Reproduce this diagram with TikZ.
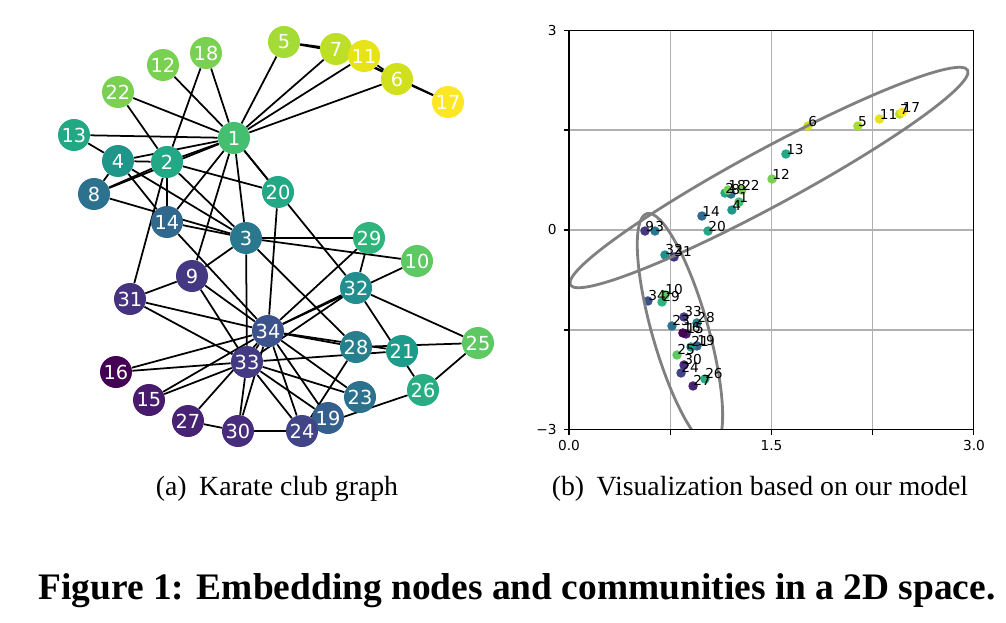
\documentclass[tikz,border=0pt]{standalone}
\usepackage{fontspec}
\setmainfont{Liberation Serif}
\newfontfamily\plotfont{DejaVu Sans}
\usetikzlibrary{backgrounds}
\definecolor{vir00}{RGB}{68, 1, 84}
\definecolor{vir05}{RGB}{72, 27, 109}
\definecolor{vir07}{RGB}{72, 35, 116}
\definecolor{vir10}{RGB}{71, 45, 123}
\definecolor{vir12}{RGB}{70, 51, 127}
\definecolor{vir14}{RGB}{69, 56, 130}
\definecolor{vir15}{RGB}{68, 58, 131}
\definecolor{vir20}{RGB}{65, 68, 135}
\definecolor{vir25}{RGB}{59, 82, 139}
\definecolor{vir29}{RGB}{53, 96, 141}
\definecolor{vir33}{RGB}{49, 104, 142}
\definecolor{vir38}{RGB}{44, 114, 142}
\definecolor{vir40}{RGB}{42, 120, 142}
\definecolor{vir44}{RGB}{39, 127, 142}
\definecolor{vir49}{RGB}{34, 142, 141}
\definecolor{vir52}{RGB}{32, 150, 139}
\definecolor{vir54}{RGB}{31, 155, 138}
\definecolor{vir60}{RGB}{34, 168, 132}
\definecolor{vir62}{RGB}{39, 173, 129}
\definecolor{vir65}{RGB}{47, 180, 124}
\definecolor{vir70}{RGB}{68, 191, 112}
\definecolor{vir75}{RGB}{94, 201, 98}
\definecolor{vir80}{RGB}{122, 209, 81}
\definecolor{vir86}{RGB}{165, 219, 54}
\definecolor{vir90}{RGB}{189, 223, 38}
\definecolor{vir93}{RGB}{208, 225, 28}
\definecolor{vir96}{RGB}{230, 228, 25}
\definecolor{vir100}{RGB}{253, 231, 37}
\definecolor{gridgray}{RGB}{176, 176, 176}
\definecolor{ringgray}{RGB}{128, 128, 128}
\def\spots{1/1.26/0.42/vir70, 2/1.156/0.555/vir60, 3/0.637/-0.015/vir40, 4/1.207/0.30/vir52,
  5/2.14/1.56/vir86, 6/1.77/1.56/vir93, 7/2.45/1.74/vir90, 8/1.20/0.54/vir38,
  9/0.563/-0.015/vir14, 10/0.711/-0.975/vir75, 11/2.30/1.665/vir96, 12/1.504/0.765/vir80,
  13/1.607/1.14/vir60, 14/0.985/0.21/vir33, 15/0.867/-1.56/vir05, 16/0.844/-1.545/vir00,
  17/2.47/1.77/vir100, 18/1.178/0.60/vir80, 19/0.948/-1.74/vir29, 20/1.03/-0.015/vir60,
  21/0.904/-1.755/vir54, 22/1.281/0.60/vir80, 23/0.763/-1.44/vir38, 24/0.83/-2.145/vir20,
  25/0.80/-1.875/vir75, 26/1.007/-2.235/vir62, 27/0.919/-2.34/vir07, 28/0.948/-1.395/vir44,
  29/0.689/-1.08/vir65, 30/0.852/-2.025/vir10, 31/0.778/-0.405/vir12, 32/0.711/-0.375/vir49,
  33/0.852/-1.305/vir15, 34/0.585/-1.065/vir25}

\begin{document}
\begin{tikzpicture}[x=0.02cm, y=-0.02cm,
    member/.style={circle, minimum size=0.64cm, inner sep=0pt, text=white,
                   font=\plotfont\fontsize{11}{11}\selectfont},
    tie/.style={line width=1pt},
    gridline/.style={line width=0.8pt, color=gridgray},
    ring/.style={line width=1.6pt, color=ringgray},
    tag/.style={anchor=base west, inner sep=0pt, font=\plotfont\fontsize{7.8}{7.8}\selectfont},
    ticklabel/.style={inner sep=0pt, font=\plotfont\fontsize{7.8}{7.8}\selectfont},
    caption/.style={inner sep=0pt, font=\fontsize{15.8}{15.8}\selectfont}]
    \useasboundingbox (0,0) rectangle (1006,622);

        \node[member, fill=vir70]  (n1)  at (234,138) {1};
        \node[member, fill=vir60]  (n2)  at (167,162) {2};
        \node[member, fill=vir40]  (n3)  at (246,238) {3};
        \node[member, fill=vir52]  (n4)  at (118,161) {4};
        \node[member, fill=vir86]  (n5)  at (284,42)  {5};
        \node[member, fill=vir93]  (n6)  at (397,79)  {6};
        \node[member, fill=vir90]  (n7)  at (336,49)  {7};
        \node[member, fill=vir38]  (n8)  at (94,194)  {8};
        \node[member, fill=vir14]  (n9)  at (192,276) {9};
        \node[member, fill=vir75]  (n10) at (417,261) {10};
        \node[member, fill=vir96]  (n11) at (364,56)  {11};
        \node[member, fill=vir80]  (n12) at (163,65)  {12};
        \node[member, fill=vir60]  (n13) at (74,135)  {13};
        \node[member, fill=vir33]  (n14) at (167,222) {14};
        \node[member, fill=vir05]  (n15) at (149,400) {15};
        \node[member, fill=vir00]  (n16) at (116,372) {16};
        \node[member, fill=vir100] (n17) at (448,102) {17};
        \node[member, fill=vir80]  (n18) at (206,53)  {18};
        \node[member, fill=vir29]  (n19) at (328,418) {19};
        \node[member, fill=vir60]  (n20) at (278,192) {20};
        \node[member, fill=vir54]  (n21) at (402,351) {21};
        \node[member, fill=vir80]  (n22) at (118,92)  {22};
        \node[member, fill=vir38]  (n23) at (360,397) {23};
        \node[member, fill=vir20]  (n24) at (302,431) {24};
        \node[member, fill=vir75]  (n25) at (478,343) {25};
        \node[member, fill=vir62]  (n26) at (423,390) {26};
        \node[member, fill=vir07]  (n27) at (188,421) {27};
        \node[member, fill=vir44]  (n28) at (356,347) {28};
        \node[member, fill=vir65]  (n29) at (369,238) {29};
        \node[member, fill=vir10]  (n30) at (238,431) {30};
        \node[member, fill=vir12]  (n31) at (130,299) {31};
        \node[member, fill=vir49]  (n32) at (356,288) {32};
        \node[member, fill=vir15]  (n33) at (247,362) {33};
        \node[member, fill=vir25]  (n34) at (268,331) {34};

        \begin{scope}[on background layer]
            \fill[white] (0,0) rectangle (1006,622);
            \foreach \a/\b in {1/2,1/3,1/4,1/5,1/6,1/7,1/8,1/9,1/11,1/12,1/13,1/14,1/18,1/20,1/22,1/32,
                               2/3,2/4,2/8,2/14,2/18,2/20,2/22,2/31,3/4,3/8,3/9,3/10,3/14,3/28,3/29,3/33,
                               4/8,4/13,4/14,5/7,5/11,6/7,6/11,6/17,7/17,9/31,9/33,9/34,10/34,14/34,
                               15/33,15/34,16/33,16/34,19/33,19/34,20/34,21/33,21/34,23/33,23/34,
                               24/26,24/28,24/30,24/33,24/34,25/26,25/28,25/32,26/32,27/30,27/34,28/34,
                               29/32,29/34,30/33,30/34,31/33,31/34,32/33,32/34,33/34}
                \draw[tie] (n\a) -- (n\b);
        \end{scope}

        \begin{scope}[shift={(569,230)}, x=2.7cm, y=1.3333cm]
            \foreach \g in {0.75,1.5,2.25} \draw[gridline] (\g,-3) -- (\g,3);
            \foreach \g in {-1.5,0,1.5} \draw[gridline] (0,\g) -- (3,\g);
            \foreach \n/\x/\y/\c in \spots \fill[\c] (\x,\y) circle (0.095cm);
            \begin{scope}
                \clip (0,-3) rectangle (3,3);
                \draw[ring, rotate around={28.4:(1.4815,0.7875)}] (1.4815,0.7875) ellipse [x radius=4.516cm, y radius=0.564cm];
                \draw[ring, rotate around={105.9:(0.822,-1.5)}]   (0.822,-1.5)    ellipse [x radius=2.42cm,  y radius=0.56cm];
            \end{scope}
            \foreach \n/\x/\y/\c in \spots \node[tag] (t\n) at (\x,\y) {\n};
            \foreach \t in {0,0.75,1.5,2.25,3} \draw[line width=0.6pt] (\t,-3) -- ++(0,-0.1cm);
            \foreach \t in {-3,-1.5,0,1.5,3} \draw[line width=0.6pt] (0,\t) -- ++(-0.1cm,0);
            \draw[line width=0.6pt] (0,-3) rectangle (3,3);
            \node[ticklabel, anchor=north] (xt0) at ([yshift=-0.2cm]0,-3)   {0.0};
            \node[ticklabel, anchor=north] (xt1) at ([yshift=-0.2cm]1.5,-3) {1.5};
            \node[ticklabel, anchor=north] (xt2) at ([yshift=-0.2cm]3,-3)   {3.0};
            \node[ticklabel, anchor=east]  (yt0) at ([xshift=-0.24cm]0,3)   {3};
            \node[ticklabel, anchor=east]  (yt1) at ([xshift=-0.24cm]0,0)   {0};
            \node[ticklabel, anchor=east]  (yt2) at ([xshift=-0.24cm]0,-3)  {−3};
        \end{scope}

        \node[caption] (capa) at (277,489) {(a)\hspace{0.45em}Karate club graph};
        \node[caption] (capb) at (760,489) {(b)\hspace{0.45em}Visualization based on our model};
        \node[inner sep=0pt, font=\bfseries\fontsize{21.3}{21.3}\selectfont] (figcap) at (517,591)
            {Figure 1: Embedding nodes and communities in a 2D space.};
\end{tikzpicture}
\end{document}
